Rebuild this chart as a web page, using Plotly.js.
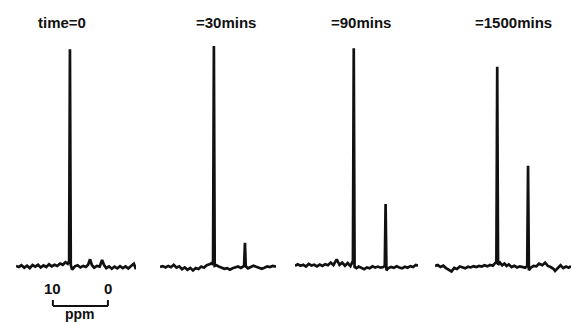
<!DOCTYPE html>
<html>
<head>
<meta charset="utf-8">
<script src="https://cdn.plot.ly/plotly-3.0.1.min.js"></script>
<style>html,body{margin:0;padding:0;background:#fff;}#chart{width:571px;height:322px;}</style>
</head>
<body>
<div id="chart"></div>
<script>
// Panel titles
const titles = ["time=0", "=30mins", "=90mins", "=1500mins"];
// Scale bar labels (ppm)
const scaleTicks = [10, 0];
const scaleUnit = "ppm";

// Panel 1 : time = 0
const ppm0 = [16.7,16.2,15.7,15.2,14.7,14.2,13.7,13.2,12.7,12.2,11.7,11.2,10.7,10.2,9.7,9.2,8.7,8.2,7.7,7.3,7.05,6.9,6.75,6.5,6.0,5.5,5.0,4.5,4.0,3.6,3.25,2.9,2.5,2.0,1.5,1.06,0.7,0.3,-0.2,-0.7,-1.2,-1.7,-2.2,-2.7,-3.2,-3.7,-4.2,-4.7,-5.1];
const int0 = [0.5,0.0,0.8,-0.3,0.6,-0.5,0.9,0.2,1.0,-0.2,0.7,0.0,1.2,0.3,1.0,0.5,1.6,1.0,2.2,1.5,2.5,99,1.0,-1.2,0.3,0.8,-0.2,0.5,0.0,1.0,3.5,0.8,-0.3,0.5,0.2,3.2,0.9,-0.5,0.3,-0.8,0.2,-0.6,0.4,-0.5,0.3,-0.7,0.5,1.5,-1.0];

// Panel 2 : 30 mins
const ppm1 = [16.7,16.2,15.7,15.2,14.7,14.2,13.7,13.2,12.7,12.2,11.7,11.2,10.7,10.2,9.7,9.2,8.7,8.2,7.7,7.3,7.05,6.9,6.75,6.4,6.0,5.5,5.0,4.5,4.0,3.5,3.0,2.5,2.0,1.6,1.4,1.25,1.1,0.7,0.2,-0.3,-0.8,-1.3,-1.8,-2.3,-2.8,-3.3,-3.8,-4.4];
const int1 = [0.0,0.4,-0.2,0.5,-0.1,1.0,-0.3,0.3,-1.0,-0.2,-1.3,-0.4,-1.6,-0.5,-0.9,0.2,-0.3,0.8,1.2,1.8,1.0,100.5,0.5,0.8,0.2,-0.3,-0.8,-0.5,-1.2,-0.6,-0.2,0.2,-0.4,0.3,0.5,11,0.3,-0.6,0.2,0.6,0.1,-0.5,-0.8,-0.3,0.3,0.0,0.5,0.2];

// Panel 3 : 90 mins
const ppm2 = [17.6,17.1,16.6,16.1,15.6,15.1,14.6,14.1,13.6,13.1,12.6,12.1,11.6,11.1,10.6,10.0,9.5,9.0,8.5,8.0,7.5,7.2,7.05,6.9,6.75,6.4,6.0,5.5,5.0,4.5,4.0,3.5,3.0,2.5,2.0,1.5,1.25,1.1,0.95,0.6,0.1,-0.4,-0.9,-1.4,-1.9,-2.4,-2.9,-3.4,-3.9,-4.4,-4.8];
const int2 = [0.5,1.2,0.6,1.0,0.2,1.4,0.7,1.0,0.3,1.1,0.5,1.3,0.8,2.0,0.9,3.5,1.0,2.0,0.6,1.8,0.4,2.0,1.5,99.5,0.0,-0.5,0.2,-0.3,-1.0,-0.2,-0.6,0.3,-0.2,0.2,-0.3,0.0,0.5,28.6,-1.5,-0.5,0.0,-0.4,0.3,-0.2,-0.6,0.1,-0.3,0.4,0.0,0.9,0.6];

// Panel 4 : 1500 mins
const ppm3 = [18.2,17.7,17.2,16.7,16.2,15.7,15.2,14.7,14.2,13.7,13.2,12.7,12.2,11.7,11.2,10.7,10.2,9.7,9.2,8.7,8.2,7.7,7.3,7.05,6.9,6.75,6.4,6.0,5.6,5.2,4.8,4.3,3.8,3.3,2.8,2.3,1.8,1.45,1.3,1.15,0.8,0.3,-0.2,-0.7,-1.3,-1.8,-2.3,-2.8,-3.3,-3.6,-4.1,-4.6,-5.1,-5.6,-6.1,-6.5];
const int3 = [0.5,0.9,0.0,0.6,-0.5,-1.2,-2.0,-0.4,-0.9,0.2,-0.3,-0.6,0.1,-0.2,0.4,0.0,0.5,0.2,0.8,0.3,0.9,0.6,1.8,2.0,91,1.0,2.0,0.8,1.6,0.5,1.2,0.0,0.6,-0.2,0.3,0.0,-0.3,0.5,46,-1.5,-0.3,0.5,0.3,1.5,0.8,2.0,0.5,0.0,-0.8,-1.8,-0.5,0.8,-0.5,0.2,-0.3,0.4];

const W = 571, H = 322;
const px = v => v / W;
const py = v => 1 - v / H;

const series = [[ppm0,int0],[ppm1,int1],[ppm2,int2],[ppm3,int3]];
const axNames = ['x','x2','x3','x4'];
const traces = series.map((s,i) => ({
  x: s[0], y: s[1], type: 'scatter', mode: 'lines',
  xaxis: axNames[i], yaxis: 'y',
  line: {color: '#111', width: 2.7},
  hoverinfo: 'skip'
}));

// pixel spans of each panel and its ppm window
const domainsPx = [[16,136],[160,276],[295,418],[435,571]];
const ranges = [[16.7,-5.1],[16.7,-4.4],[17.6,-4.8],[18.2,-6.5]];
const titleX = [62, 226, 361, 513];

const layout = {
  width: W, height: H,
  margin: {l:0, r:0, t:0, b:0},
  paper_bgcolor: '#fff', plot_bgcolor: '#fff',
  showlegend: false,
  yaxis: {visible: false, range: [-25, 121.4], domain: [0,1], fixedrange: true},
  annotations: [],
  shapes: []
};
axNames.forEach((a,i) => {
  const key = i === 0 ? 'xaxis' : 'xaxis' + (i+1);
  layout[key] = {visible: false, domain: [px(domainsPx[i][0]), px(domainsPx[i][1])],
                 range: ranges[i], anchor: 'y'};
});
const font = {family: 'Liberation Sans, Arial, sans-serif', size: 15, color: '#111', weight: 'bold'};
titles.forEach((t,i) => {
  layout.annotations.push({text: t, xref: 'paper', yref: 'paper', x: px(titleX[i]), y: py(23),
    showarrow: false, xanchor: 'center', yanchor: 'middle', font: font});
});
// scale bar under panel 1 (in ppm of panel 1)
scaleTicks.forEach(v => {
  layout.annotations.push({text: String(v), xref: 'x', yref: 'y', x: v, y: -9.6,
    showarrow: false, xanchor: 'center', yanchor: 'middle', font: font});
});
layout.annotations.push({text: scaleUnit, xref: 'x', yref: 'y', x: (scaleTicks[0]+scaleTicks[1])/2, y: -21.3,
  showarrow: false, xanchor: 'center', yanchor: 'middle', font: Object.assign({}, font, {size: 14})});
const lineStyle = {color: '#111', width: 2};
layout.shapes.push({type: 'line', xref: 'x', yref: 'y', x0: scaleTicks[0], x1: scaleTicks[1], y0: -17.7, y1: -17.7, line: lineStyle});
scaleTicks.forEach(v => {
  layout.shapes.push({type: 'line', xref: 'x', yref: 'y', x0: v, x1: v, y0: -17.7, y1: -15.0, line: lineStyle});
});

Plotly.newPlot('chart', traces, layout, {staticPlot: true, displayModeBar: false});
</script>
</body>
</html>
